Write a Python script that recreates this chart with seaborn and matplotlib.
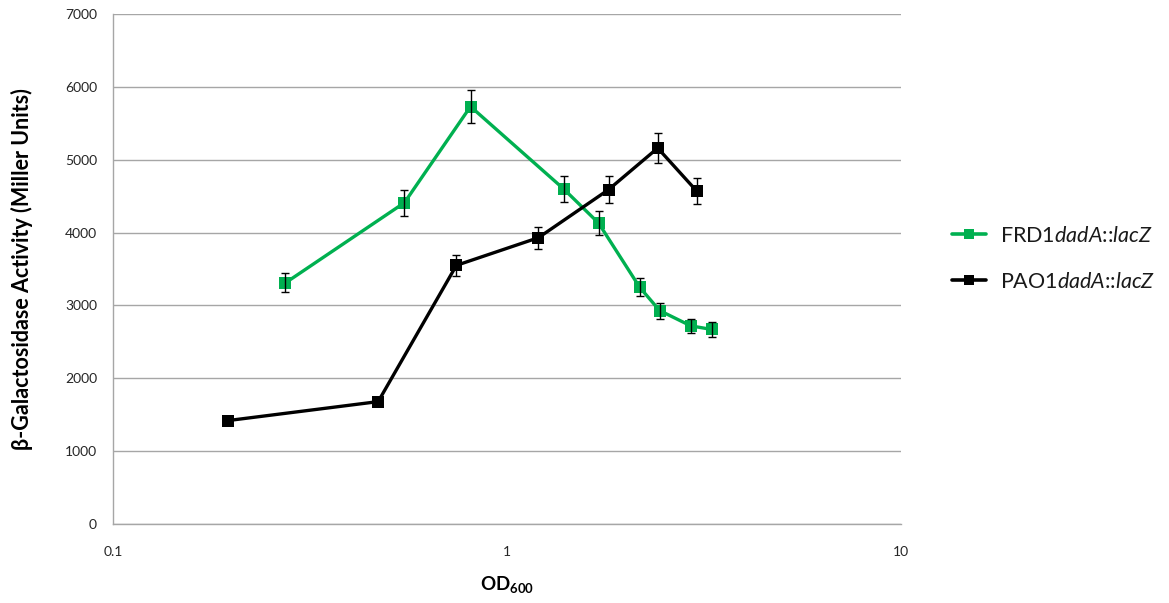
import numpy as np
import pandas as pd
import matplotlib
matplotlib.use("Agg")
import matplotlib.pyplot as plt
from matplotlib.lines import Line2D
import seaborn as sns

# OD600 readings and beta-galactosidase activity (Miller units) for each strain
frd1_od = [0.274, 0.549, 0.808, 1.392, 1.708, 2.171, 2.44, 2.926, 3.31]
frd1_act = [3310, 4410, 5730, 4600, 4130, 3250, 2930, 2720, 2670]
frd1_err = [130, 180, 225, 180, 165, 120, 110, 95, 100]

pao1_od = [0.196, 0.471, 0.744, 1.202, 1.811, 2.413, 3.03]
pao1_act = [1420, 1680, 3550, 3930, 4590, 5160, 4570]
pao1_err = [40, 40, 145, 150, 180, 200, 180]

strains = ["FRD1", "PAO1"]
strain_labels = ["FRD1$\\it{dadA}$::$\\it{lacZ}$", "PAO1$\\it{dadA}$::$\\it{lacZ}$"]
colors = {"FRD1": "#00B050", "PAO1": "#000000"}

y_ticks = [0, 1000, 2000, 3000, 4000, 5000, 6000, 7000]
x_ticks = [0.1, 1, 10]
x_ticklabels = ["0.1", "1", "10"]

df = pd.concat([
    pd.DataFrame({"od": frd1_od, "act": frd1_act, "err": frd1_err, "strain": "FRD1"}),
    pd.DataFrame({"od": pao1_od, "act": pao1_act, "err": pao1_err, "strain": "PAO1"}),
], ignore_index=True)

sns.set_style("white")
plt.rcParams["font.family"] = ["Lato", "DejaVu Sans"]
plt.rcParams["mathtext.fontset"] = "custom"
plt.rcParams["mathtext.rm"] = "Lato"
plt.rcParams["mathtext.it"] = "Lato:italic"
plt.rcParams["mathtext.bf"] = "Lato:bold"

fig = plt.figure(figsize=(11.69, 6.03), dpi=100)
ax = fig.add_axes([0.0967, 0.1310, 0.674, 0.8458])

ax.set_xscale("log")
for s in strains:
    sub = df[df.strain == s]
    sns.lineplot(data=sub, x="od", y="act", ax=ax, color=colors[s], sort=False,
                 marker="s", markersize=8.5, markeredgewidth=0, linewidth=2.4,
                 errorbar=None, legend=False, zorder=3)
    ax.errorbar(sub["od"], sub["act"], yerr=sub["err"], fmt="none",
                ecolor="black", elinewidth=1.0, capsize=3.2, capthick=1.0, zorder=4)

ax.set_xlim(0.1, 10)
ax.set_ylim(0, 7000)
ax.set_yticks(y_ticks)
ax.set_yticklabels([str(v) for v in y_ticks])
ax.set_xticks(x_ticks)
ax.set_xticklabels(x_ticklabels)
ax.xaxis.set_minor_locator(matplotlib.ticker.NullLocator())
ax.tick_params(axis="both", length=0, labelsize=10, colors="#262626")
ax.tick_params(axis="y", pad=11.5)
ax.tick_params(axis="x", pad=15.5)

ax.yaxis.grid(True, color="#A6A6A6", linewidth=1.0)
ax.xaxis.grid(False)
ax.set_axisbelow(True)
for side in ["top", "right"]:
    ax.spines[side].set_visible(False)
for side in ["left", "bottom"]:
    ax.spines[side].set_color("#A6A6A6")
    ax.spines[side].set_linewidth(1.0)

ax.set_xlabel("$\\mathbf{OD_{600}}$", fontsize=13.5, color="black")
ax.xaxis.set_label_coords(0.5, -0.098)
ax.set_ylabel("β-Galactosidase Activity (Miller Units)", fontsize=15.5,
              fontweight="bold", color="black")
ax.yaxis.set_label_coords(-0.102, 0.5)

handles = [Line2D([], [], color=colors[s], marker="s", markersize=7.5,
                  markeredgewidth=0, linewidth=2.6) for s in strains]
leg = ax.legend(handles, strain_labels, loc="center left",
                bbox_to_anchor=(1.065, 0.52), frameon=False, fontsize=15.5,
                labelspacing=1.2, handlelength=1.55, handletextpad=0.65,
                borderpad=0, borderaxespad=0)
for t in leg.get_texts():
    t.set_color("#1a1a1a")

fig.savefig("out.png", dpi=100)
